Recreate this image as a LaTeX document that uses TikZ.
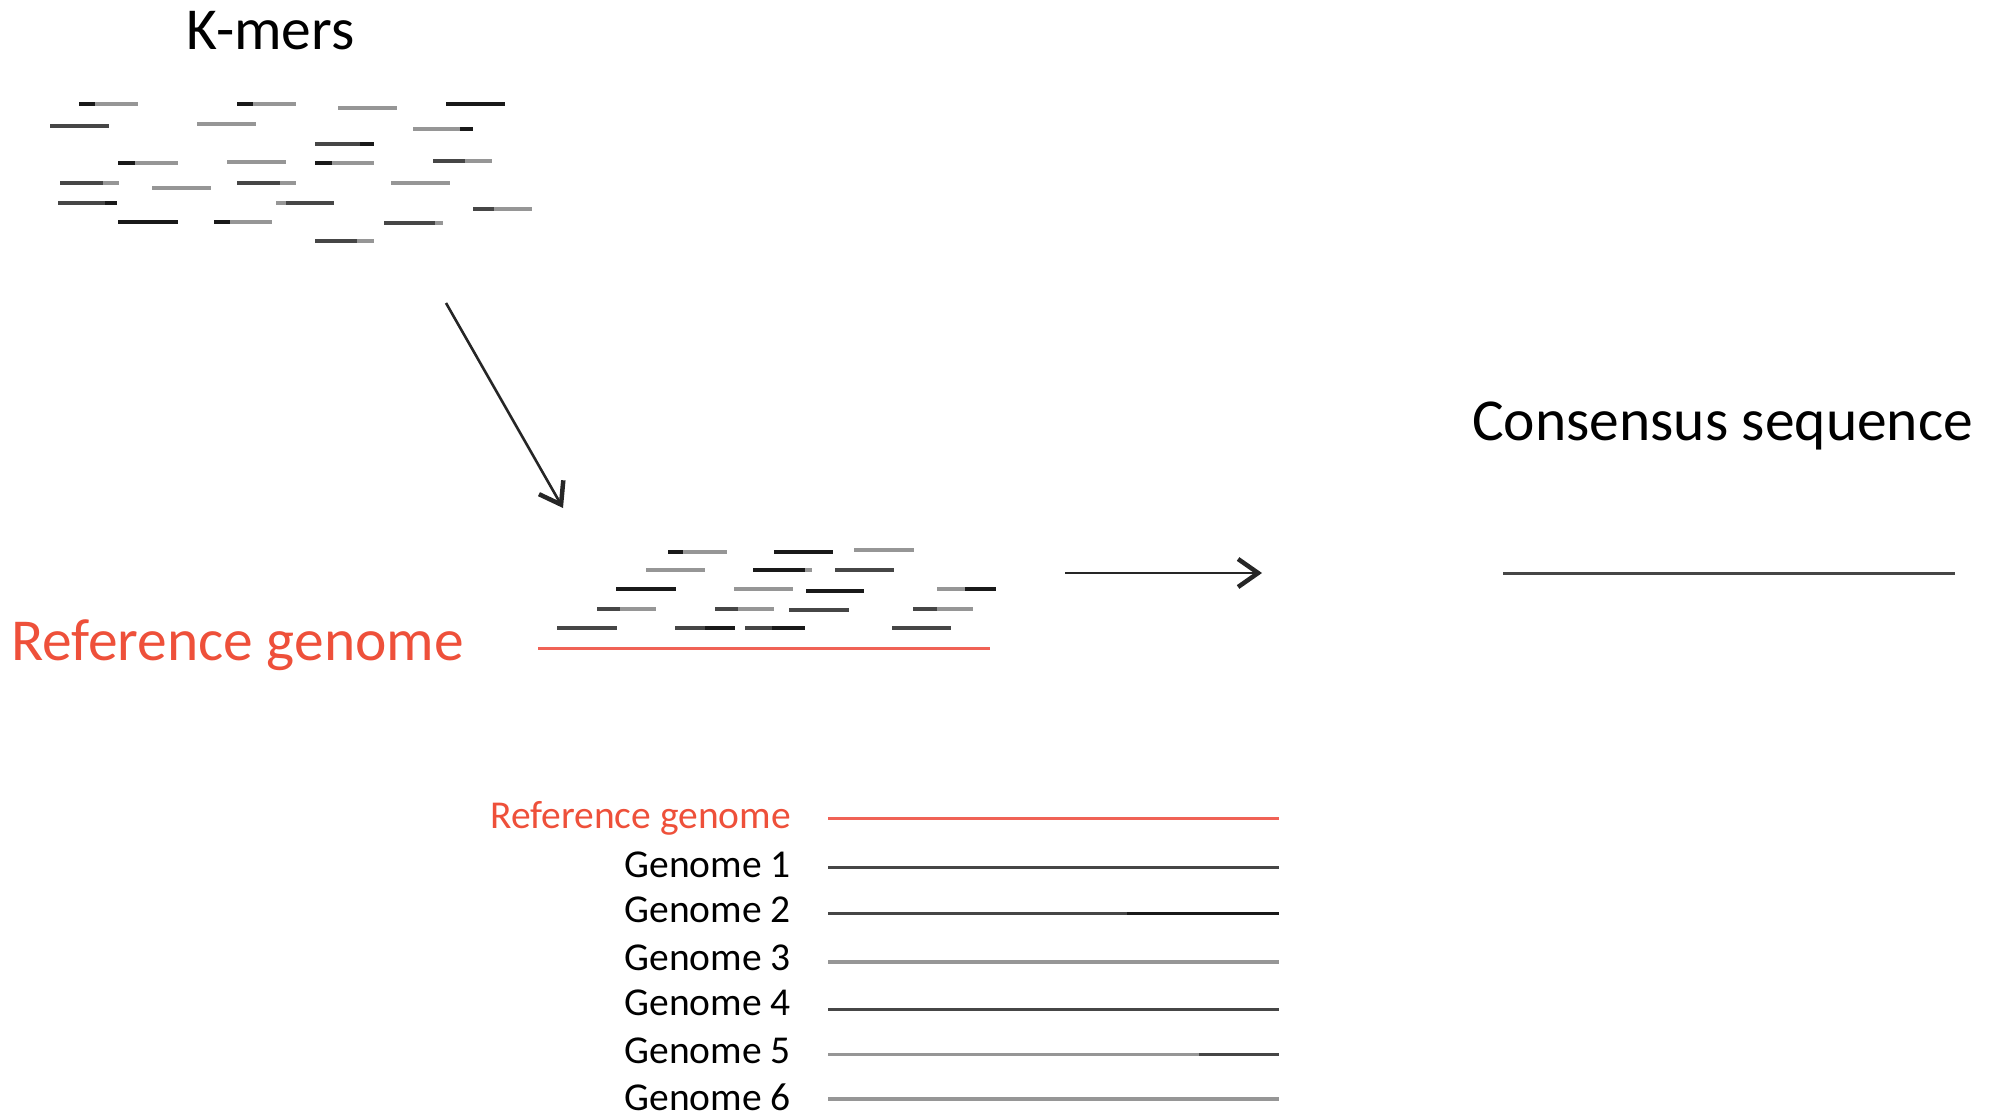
\documentclass[tikz,border=0pt]{standalone}
\usepackage{fontspec}
\setmainfont{Carlito}
\usetikzlibrary{arrows.meta}
\definecolor{refred}{RGB}{238,80,58}
\definecolor{refline}{RGB}{240,98,86}
\definecolor{kb}{RGB}{25,25,25}
\definecolor{kd}{RGB}{70,70,70}
\definecolor{kg}{RGB}{150,150,150}
\newcommand\kseg[6]{\draw[kline,#5] (#1,#3) -- (#4,#3); \draw[kline,#6] (#4,#3) -- (#2,#3);}
\tikzset{
  kline/.style={line width=3.2pt, line cap=butt},
  bigtext/.style={inner sep=0pt, font=\fontsize{59.5}{63}\selectfont},
  smalltext/.style={inner sep=0pt, font=\fontsize{39.5}{43}\selectfont, anchor=base east},
  gline/.style={line width=3pt, line cap=butt},
  flowarrow/.style={line width=2.6pt, -{Straight Barb[length=20pt,width=28pt,line width=4.5pt]}},
}
\begin{document}
\begin{tikzpicture}[x=1pt,y=-1pt]
\useasboundingbox (0,0) rectangle (1989,1118);
% titles
\node[bigtext, anchor=base west] (kmers) at (186,50) {K-mers};
\node[bigtext, anchor=base west, text=refred] (refbig) at (11,660) {Reference genome};
\node[bigtext, anchor=base west] (cons) at (1472,440) {Consensus sequence};
% k-mers cloud
\kseg{79}{138}{104}{95}{kb}{kg}
\kseg{237}{296}{104}{253}{kb}{kg}
\kseg{446}{505}{104}{505}{kb}{kb}
\kseg{338}{397}{108}{397}{kg}{kg}
\kseg{50}{109}{126}{109}{kd}{kd}
\kseg{197}{256}{124}{256}{kg}{kg}
\kseg{413}{473}{129}{460}{kg}{kb}
\kseg{315}{374}{144}{360}{kd}{kb}
\kseg{118}{178}{163}{135}{kb}{kg}
\kseg{227}{286}{162}{286}{kg}{kg}
\kseg{315}{374}{163}{332}{kb}{kg}
\kseg{433}{492}{161}{465}{kd}{kg}
\kseg{60}{119}{183}{103}{kd}{kg}
\kseg{237}{296}{183}{280}{kd}{kg}
\kseg{391}{450}{183}{450}{kg}{kg}
\kseg{152}{211}{188}{211}{kg}{kg}
\kseg{58}{117}{203}{105}{kd}{kb}
\kseg{276}{334}{203}{286}{kg}{kd}
\kseg{473}{532}{209}{494}{kd}{kg}
\kseg{118}{178}{222}{178}{kb}{kb}
\kseg{214}{272}{222}{230}{kb}{kg}
\kseg{384}{443}{223}{435}{kd}{kg}
\kseg{315}{374}{241}{357}{kd}{kg}
% mapped reads
\kseg{668}{727}{552}{683}{kb}{kg}
\kseg{774}{833}{552}{833}{kb}{kb}
\kseg{854}{914}{550}{914}{kg}{kg}
\kseg{646}{705}{570}{705}{kg}{kg}
\kseg{753}{812}{570}{805}{kb}{kg}
\kseg{835}{894}{570}{894}{kd}{kd}
\kseg{616}{676}{589}{676}{kb}{kb}
\kseg{734}{793}{589}{793}{kg}{kg}
\kseg{806}{864}{591}{864}{kb}{kb}
\kseg{937}{996}{589}{965}{kg}{kb}
\kseg{597}{656}{609}{620}{kd}{kg}
\kseg{715}{774}{609}{738}{kd}{kg}
\kseg{789}{849}{610}{849}{kd}{kd}
\kseg{913}{973}{609}{937}{kd}{kg}
\kseg{557}{617}{628}{617}{kd}{kd}
\kseg{675}{735}{628}{705}{kd}{kb}
\kseg{745}{805}{628}{772}{kd}{kb}
\kseg{892}{951}{628}{951}{kd}{kd}
\draw[gline, refline] (538,648) -- (990,648);
% arrows
\coordinate (a1s) at (446,303);
\coordinate (a1e) at (563,508);
\draw[flowarrow, black!85] (a1s) -- (a1e);
\coordinate (a2s) at (1065,573);
\coordinate (a2e) at (1262,573);
\draw[flowarrow, black!85] (a2s) -- (a2e);
% consensus
\draw[gline, kd] (1503,573) -- (1955,573);
% genome list
\node[smalltext, text=refred] (lref) at (791,828) {Reference genome};
\node[smalltext] (g1) at (791,877) {Genome 1};
\node[smalltext] (g2) at (791,922) {Genome 2};
\node[smalltext] (g3) at (791,970) {Genome 3};
\node[smalltext] (g4) at (791,1015) {Genome 4};
\node[smalltext] (g5) at (791,1063) {Genome 5};
\node[smalltext] (g6) at (791,1110) {Genome 6};
\draw[gline, refline] (828,818) -- (1279,818);
\draw[gline, kd] (828,867) -- (1279,867);
\draw[gline, kd] (828,913) -- (1127,913);
\draw[gline, kb] (1127,913) -- (1279,913);
\draw[gline, kg, line width=3.6pt] (828,962) -- (1279,962);
\draw[gline, kd] (828,1009) -- (1279,1009);
\draw[gline, kg] (828,1054) -- (1199,1054);
\draw[gline, kd] (1199,1054) -- (1279,1054);
\draw[gline, kg, line width=3.6pt] (828,1099) -- (1279,1099);
\end{tikzpicture}
\end{document}
